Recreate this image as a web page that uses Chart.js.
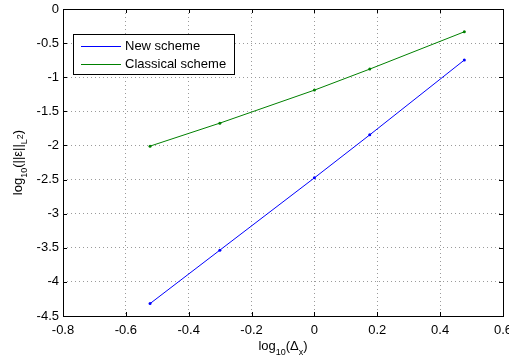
<!DOCTYPE html>
<html>
<head>
<meta charset="utf-8">
<script src="https://cdn.jsdelivr.net/npm/chart.js@4"></script>
<style>
html,body{margin:0;padding:0;background:#fff;}
#wrap{position:relative;width:509px;height:361px;}
</style>
</head>
<body>
<div id="wrap"><canvas id="c" width="509" height="361"></canvas></div>
<script>
const xValues = [-0.523, -0.301, 0, 0.176, 0.477];
const newScheme = [-4.318, -3.535, -2.475, -1.845, -0.748];
const classicalScheme = [-2.01, -1.673, -1.189, -0.881, -0.334];
const seriesNames = ["New scheme", "Classical scheme"];
const xTickRange = {min: -0.8, max: 0.6, step: 0.2};
const yTickRange = {min: -4.5, max: 0, step: 0.5};

const FONT = "Liberation Sans, Arial, Helvetica, sans-serif";
const toPts = (xs, ys) => xs.map((x, i) => ({x: x, y: ys[i]}));

function drawRich(ctx, parts, x, y, size) {
  let total = 0;
  const widths = parts.map(p => {
    const s = p[1] === 0 ? size : Math.round(size * 0.72);
    ctx.font = s + "px " + FONT;
    const w = ctx.measureText(p[0]).width;
    total += w;
    return w;
  });
  let cx = x - total / 2;
  parts.forEach((p, i) => {
    const s = p[1] === 0 ? size : Math.round(size * 0.72);
    ctx.font = s + "px " + FONT;
    let dy = 0;
    if (p[1] === 1) dy = size * 0.35;
    if (p[1] === 2) dy = size * 0.1;
    ctx.fillText(p[0], cx, y + dy);
    cx += widths[i];
  });
}

const framePlugin = {
  id: 'frame',
  afterDraw(chart) {
    const ctx = chart.ctx;
    const a = chart.chartArea;
    const xs = chart.scales.x, ys = chart.scales.y;
    ctx.save();
    ctx.strokeStyle = '#000';
    ctx.lineWidth = 1;
    ctx.strokeRect(Math.round(a.left) + 0.5, Math.round(a.top) + 0.5,
                   Math.round(a.right - a.left), Math.round(a.bottom - a.top));
    ctx.beginPath();
    xs.ticks.forEach(t => {
      const px = Math.round(xs.getPixelForValue(t.value)) + 0.5;
      ctx.moveTo(px, a.bottom); ctx.lineTo(px, a.bottom - 4);
      ctx.moveTo(px, a.top); ctx.lineTo(px, a.top + 4);
    });
    ys.ticks.forEach(t => {
      const py = Math.round(ys.getPixelForValue(t.value)) + 0.5;
      ctx.moveTo(a.left, py); ctx.lineTo(a.left + 4, py);
      ctx.moveTo(a.right, py); ctx.lineTo(a.right - 4, py);
    });
    ctx.stroke();

    const lx = 73, ly = 34, lw = 161, lh = 40;
    ctx.fillStyle = '#fff';
    ctx.fillRect(lx, ly, lw, lh);
    ctx.strokeStyle = '#000';
    ctx.strokeRect(lx + 0.5, ly + 0.5, lw, lh);
    const colors = ['#0000ff', '#008000'];
    const rows = [46, 64];
    ctx.font = "13px " + FONT;
    ctx.textBaseline = 'middle';
    ctx.textAlign = 'left';
    seriesNames.forEach((n, i) => {
      ctx.strokeStyle = colors[i];
      ctx.beginPath();
      ctx.moveTo(81, rows[i] + 0.5); ctx.lineTo(121, rows[i] + 0.5);
      ctx.stroke();
      ctx.fillStyle = '#000';
      ctx.fillText(n, 125, rows[i]);
    });

    ctx.fillStyle = '#000';
    ctx.textBaseline = 'alphabetic';
    ctx.textAlign = 'left';
    drawRich(ctx, [["log", 0], ["10", 1], ["(\u0394", 0], ["x", 1], [")", 0]],
             (a.left + a.right) / 2, 350, 13);
    ctx.save();
    ctx.translate(22, (a.top + a.bottom) / 2);
    ctx.rotate(-Math.PI / 2);
    drawRich(ctx, [["log", 0], ["10", 1], ["(||\u03b5||", 0], ["L", 1], ["2", 2], [")", 0]],
             0, 0, 13);
    ctx.restore();
    ctx.restore();
  }
};

const fmt = v => {
  const r = Math.round(v * 10) / 10;
  return (Object.is(r, -0) ? 0 : r).toString();
};

new Chart(document.getElementById('c'), {
  type: 'scatter',
  data: {
    datasets: [
      {label: seriesNames[0], data: toPts(xValues, newScheme), showLine: true,
       borderColor: '#0000ff', backgroundColor: '#0000ff', borderWidth: 1,
       pointRadius: 1.5, pointBorderWidth: 0},
      {label: seriesNames[1], data: toPts(xValues, classicalScheme), showLine: true,
       borderColor: '#008000', backgroundColor: '#008000', borderWidth: 1,
       pointRadius: 1.5, pointBorderWidth: 0}
    ]
  },
  options: {
    responsive: false,
    animation: false,
    events: [],
    layout: {padding: {left: 0, right: 6, top: 9, bottom: 0}},
    plugins: {legend: {display: false}, tooltip: {enabled: false}},
    scales: {
      x: {
        type: 'linear', min: xTickRange.min, max: xTickRange.max,
        ticks: {stepSize: xTickRange.step, callback: fmt, color: '#000',
                font: {family: FONT, size: 13}, padding: 7, maxRotation: 0, autoSkip: false},
        grid: {color: '#9a9a9a', lineWidth: 1, drawTicks: false, tickLength: 0},
        border: {display: false, dash: [1, 3]},
        afterFit(s) { s.height = 45; s.paddingLeft = 0; s.paddingRight = 0; }
      },
      y: {
        type: 'linear', min: yTickRange.min, max: yTickRange.max,
        ticks: {stepSize: yTickRange.step, callback: fmt, color: '#000',
                font: {family: FONT, size: 13}, padding: 4, autoSkip: false},
        grid: {color: '#9a9a9a', lineWidth: 1, drawTicks: false, tickLength: 0},
        border: {display: false, dash: [1, 3]},
        afterFit(s) { s.width = 63; s.paddingTop = 0; s.paddingBottom = 0; }
      }
    }
  },
  plugins: [framePlugin]
});
</script>
</body>
</html>
